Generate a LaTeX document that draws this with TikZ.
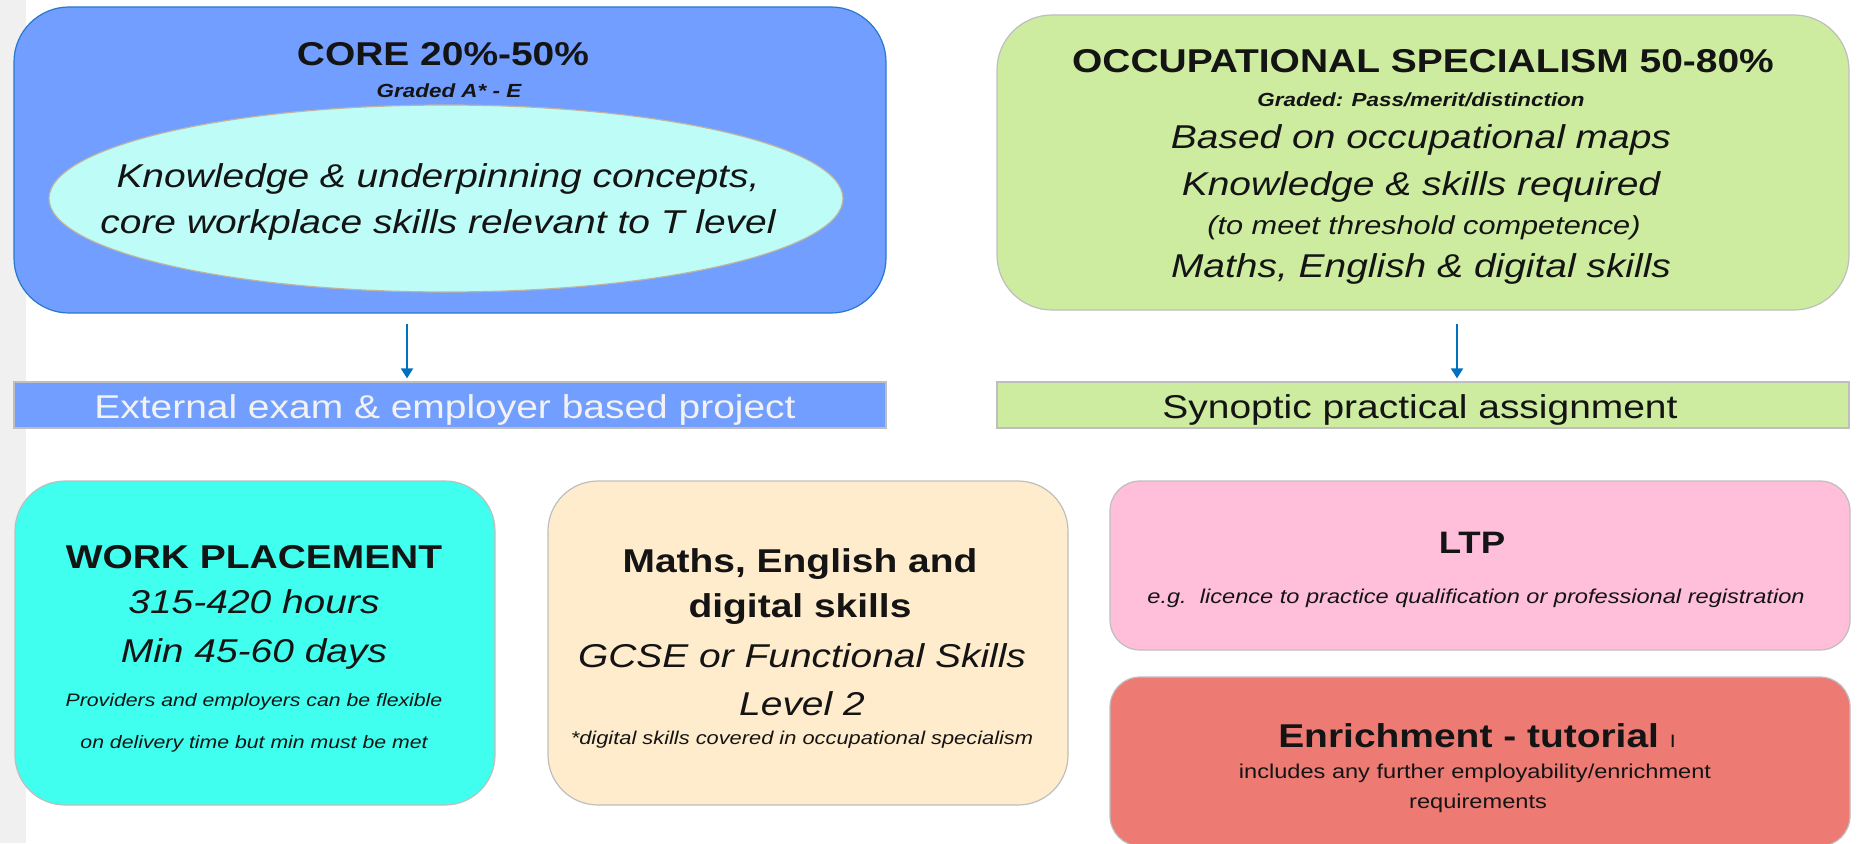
\documentclass[tikz,border=0pt]{standalone}
\usepackage{fontspec}
\setmainfont[FakeStretch=1.18]{Liberation Sans}
\usetikzlibrary{arrows.meta,shapes.geometric}
\definecolor{stripgrey}{RGB}{240,240,240}
\definecolor{coreblue}{RGB}{114,158,255}
\definecolor{coreedge}{RGB}{40,120,205}
\definecolor{ellfill}{RGB}{189,252,247}
\definecolor{ellline}{RGB}{190,180,160}
\definecolor{occgreen}{RGB}{205,236,160}
\definecolor{wpaqua}{RGB}{64,255,238}
\definecolor{mathsbeige}{RGB}{255,236,204}
\definecolor{ltppink}{RGB}{255,190,217}
\definecolor{enrred}{RGB}{238,122,116}
\definecolor{boxline}{RGB}{190,190,190}
\definecolor{arrblue}{RGB}{0,112,192}
\definecolor{bartext}{RGB}{242,242,242}
\definecolor{ink}{RGB}{20,20,20}
\newcommand{\fsz}[1]{\fontsize{#1}{#1}\selectfont}
\begin{document}
\begin{tikzpicture}[x=1pt,y=-1pt,
  box/.style={draw=boxline, line width=1.2pt, inner sep=0pt},
  txt/.style={anchor=base, inner sep=0pt, text=ink},
  arr/.style={draw=arrblue, line width=1.8pt, -{Triangle[length=10pt,width=12pt]}}]
\useasboundingbox (0,0) rectangle (1857,843);
\fill[stripgrey] (0,0) rectangle (26,843);

% top row
\node[box, fill=coreblue, draw=coreedge, rounded corners=55pt, minimum width=872pt, minimum height=306pt] (core) at (450,160) {};
\node[ellipse, draw=ellline, line width=1.2pt, fill=ellfill, inner sep=0pt, minimum width=794pt, minimum height=187pt] (ell) at (446,198.5) {};
\node[box, fill=coreblue, minimum width=872pt, minimum height=46pt] (extbar) at (450,405) {};
\node[box, fill=occgreen, rounded corners=55pt, minimum width=852pt, minimum height=295pt] (occ) at (1423,162.5) {};
\node[box, fill=occgreen, minimum width=852pt, minimum height=46pt] (synbar) at (1423,405) {};

% bottom row
\node[box, fill=wpaqua, rounded corners=50pt, minimum width=480pt, minimum height=324pt] (wp) at (255,643) {};
\node[box, fill=mathsbeige, rounded corners=50pt, minimum width=520pt, minimum height=324pt] (maths) at (808,643) {};
\node[box, fill=ltppink, rounded corners=30pt, minimum width=740pt, minimum height=169pt] (ltp) at (1480,565.5) {};
\node[box, fill=enrred, rounded corners=30pt, minimum width=740pt, minimum height=169pt] (enr) at (1480,761.5) {};

% arrows
\coordinate (a1) at (407,0);
\coordinate (a2) at (1457,0);
\draw[arr, shorten <=10pt, shorten >=3pt] (core.south -| a1) -- (extbar.north -| a1);
\draw[arr, shorten <=13pt, shorten >=3pt] (occ.south -| a2) -- (synbar.north -| a2);

% core texts
\node[txt, font=\fsz{33}\bfseries] (coret) at (443,66) {CORE 20\%-50\%};
\node[txt, font=\fsz{19}\bfseries\itshape] (coreg) at (449,97) {Graded A* - E};
\node[txt, font=\fsz{33}\itshape] (ell1) at (438,187) {Knowledge \& underpinning concepts,};
\node[txt, font=\fsz{33}\itshape] (ell2) at (438,233) {core workplace skills relevant to T level};
\node[txt, font=\fsz{33}, text=bartext] (extt) at (445,418) {External exam \& employer based project};

% occupational texts
\node[txt, font=\fsz{33}\bfseries] (occt) at (1423,73) {OCCUPATIONAL SPECIALISM 50-80\%};
\node[txt, font=\fsz{19}\bfseries\itshape] (occg) at (1421,106) {Graded: Pass/merit/distinction};
\node[txt, font=\fsz{33}\itshape] (occ1) at (1421,148) {Based on occupational maps};
\node[txt, font=\fsz{33}\itshape] (occ2) at (1421,195) {Knowledge \& skills required};
\node[txt, font=\fsz{26}\itshape] (occ3) at (1424,234) {(to meet threshold competence)};
\node[txt, font=\fsz{33}\itshape] (occ4) at (1421,277) {Maths, English \& digital skills};
\node[txt, font=\fsz{33}] (synt) at (1420,418) {Synoptic practical assignment};

% work placement texts
\node[txt, font=\fsz{33}\bfseries] (wpt) at (254,568) {WORK PLACEMENT};
\node[txt, font=\fsz{33}\itshape] (wp1) at (254,613) {315-420 hours};
\node[txt, font=\fsz{33}\itshape] (wp2) at (254,662) {Min 45-60 days};
\node[txt, font=\fsz{18}\itshape] (wp3) at (254,706) {Providers and employers can be flexible};
\node[txt, font=\fsz{18}\itshape] (wp4) at (254,748) {on delivery time but min must be met};

% maths texts
\node[txt, font=\fsz{33}\bfseries] (mt1) at (800,572) {Maths, English and};
\node[txt, font=\fsz{33}\bfseries] (mt2) at (800,617) {digital skills};
\node[txt, font=\fsz{33}\itshape] (m1) at (802,667) {GCSE or Functional Skills};
\node[txt, font=\fsz{33}\itshape] (m2) at (802,715) {Level 2};
\node[txt, font=\fsz{18.5}\itshape] (m3) at (802,744) {*digital skills covered in occupational specialism};

% LTP texts
\node[txt, font=\fsz{31}\bfseries] (ltpt) at (1472,553) {LTP};
\node[txt, font=\fsz{20}\itshape] (ltp1) at (1476,603) {e.g.\ \ licence to practice qualification or professional registration};

% enrichment texts
\node[txt, font=\fsz{33}\bfseries] (enrt) at (1477,747) {Enrichment - tutorial {\fsz{18}\mdseries I}};
\node[txt, font=\fsz{20}] (enr1) at (1475,778) {includes any further employability/enrichment};
\node[txt, font=\fsz{20}] (enr2) at (1478,808) {requirements};
\end{tikzpicture}
\end{document}
